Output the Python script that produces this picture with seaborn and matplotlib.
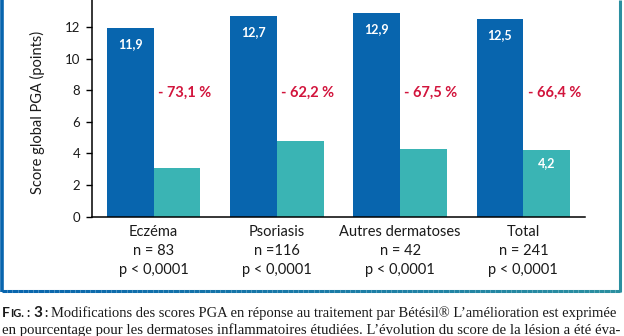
import numpy as np
import pandas as pd
import matplotlib
matplotlib.use("Agg")
import matplotlib.pyplot as plt
from matplotlib.collections import LineCollection
from matplotlib.colors import to_rgb
import seaborn as sns

# --- data -------------------------------------------------------------
categories = ["Eczéma", "Psoriasis", "Autres dermatoses", "Total"]
n_labels = ["n = 83", "n =116", "n = 42", "n = 241"]
p_labels = ["p < 0,0001", "p < 0,0001", "p < 0,0001", "p < 0,0001"]
score_start = [11.9, 12.7, 12.9, 12.5]
score_end = [3.1, 4.8, 4.3, 4.2]
change_labels = ["- 73,1 %", "- 62,2 %", "- 67,5 %", "- 66,4 %"]
yticks = [0, 2, 4, 6, 8, 10, 12]

BLUE = "#0865ae"
TEAL = "#3ab4b4"
RED = "#d2143c"

df = pd.DataFrame({
    "categorie": categories * 2,
    "periode": ["J0"] * len(categories) + ["Fin"] * len(categories),
    "score": score_start + score_end,
})

sns.set_theme(style="white")
plt.rcParams["font.family"] = ["Lato", "DejaVu Sans"]

W, H, DPI = 624, 336, 100
fig = plt.figure(figsize=(W / DPI, H / DPI), dpi=DPI)

# axes placed in pixel terms
ax_l, ax_r, ax_b, ax_t = 92, 585, 216.5, 0
ax = fig.add_axes([ax_l / W, (H - ax_b) / H, (ax_r - ax_l) / W, (ax_b - ax_t) / H])

sns.barplot(data=df, x="categorie", y="score", hue="periode",
            palette=[BLUE, TEAL], saturation=1, width=0.76, gap=0,
            linewidth=0, legend=False, ax=ax)

px_per_unit = 15.8
ax.set_ylim(0, (ax_b - ax_t) / px_per_unit)
ax.set_xlim(-0.5, 3.5)

for s in ["top", "right"]:
    ax.spines[s].set_visible(False)
for s in ["left", "bottom"]:
    ax.spines[s].set_color("black")
    ax.spines[s].set_linewidth(1.1)

ax.set_yticks(yticks)
ax.set_yticklabels([str(v) for v in yticks], fontsize=9.5, color="#1a1a1a")
ax.tick_params(axis="y", direction="out", length=4.5, width=1.0, color="black", pad=4, left=True)

ax.set_xticks(range(len(categories)))
ax.set_xticklabels([f"{c}\n{n}\n{p}" for c, n, p in zip(categories, n_labels, p_labels)],
                   fontsize=10.5, color="#1a1a1a", linespacing=1.45)
ax.tick_params(axis="x", length=0, pad=6)
ax.set_xlabel("")
ax.set_ylabel("Score global PGA (points)", fontsize=10.5, color="#1a1a1a")
ax.yaxis.set_label_coords(-0.095, 0.48)

# value labels inside bars
for i, v in enumerate(score_start):
    ax.annotate(f"{v:.1f}".replace(".", ","), (i - 0.19, v), xytext=(0, -16),
                textcoords="offset pixels", ha="center", va="center",
                color="white", fontsize=9, fontweight="bold")
ax.annotate(f"{score_end[-1]:.1f}".replace(".", ","), (3 + 0.19, score_end[-1]),
            xytext=(0, -13), textcoords="offset pixels", ha="center", va="center",
            color="white", fontsize=9, fontweight="bold")

# percentage change labels
for i, lab in enumerate(change_labels):
    ax.text(i + 0.035, 7.8, lab, ha="left", va="center", color=RED,
            fontsize=10.5, fontweight="bold")

# frame around the figure panel (blue on the left, fading to teal on the right)
fax = fig.add_axes([0, 0, 1, 1], zorder=-1)
fax.set_xlim(0, W)
fax.set_ylim(H, 0)
fax.axis("off")
c1, c2 = np.array(to_rgb(BLUE)), np.array(to_rgb("#2a8fa0"))
xs = np.linspace(2, 620, 120)
segs = [[(xs[k], 291), (xs[k + 1], 291)] for k in range(len(xs) - 1)]
cols = [tuple(c1 + (c2 - c1) * (k / (len(segs) - 1))) for k in range(len(segs))]
fax.add_collection(LineCollection(segs, colors=cols, linewidths=2.2))
fax.plot([2, 2], [0, 292], color=BLUE, lw=2.6, solid_capstyle="butt")
fax.plot([620, 620], [0, 292], color="#2a8fa0", lw=2.2, solid_capstyle="butt")

# caption below the panel
renderer = fig.canvas.get_renderer()
scale = W / fig.bbox.width


def put_pieces(x, y, pieces):
    for txt, kw in pieces:
        t = fax.text(x, y, txt, va="baseline", ha="left", **kw)
        x += t.get_window_extent(renderer=renderer).width * scale
    return x


def fit_text(x, y, txt, right, size, **kw):
    t = fax.text(x, y, txt, va="baseline", ha="left", fontsize=size, **kw)
    for _ in range(3):
        w = t.get_window_extent(renderer=renderer).width * scale
        t.set_fontsize(t.get_fontsize() * (right - x) / w)
    return t


sans_b = dict(family=["Lato", "DejaVu Sans"], fontweight="bold", color="#1a1a1a")
serif = dict(family=["Liberation Serif", "DejaVu Serif"], color="#1a1a1a")
x_end = put_pieces(2, 317, [
    ("F", dict(fontsize=10, **sans_b)),
    ("IG.", dict(fontsize=8, **sans_b)),
    (" : ", dict(fontsize=9, **sans_b)),
    ("3", dict(fontsize=11, **sans_b)),
    (" : ", dict(fontsize=9, **sans_b)),
])
fit_text(x_end, 317, "Modifications des scores PGA en réponse au traitement par Bétésil® "
         "L’amélioration est exprimée", 616, 9.5, **serif)
fit_text(2, 334, "en pourcentage pour les dermatoses inflammatoires étudiées. "
         "L’évolution du score de la lésion a été éva-", 618, 9.5, **serif)

fig.savefig("out.png", dpi=DPI)
